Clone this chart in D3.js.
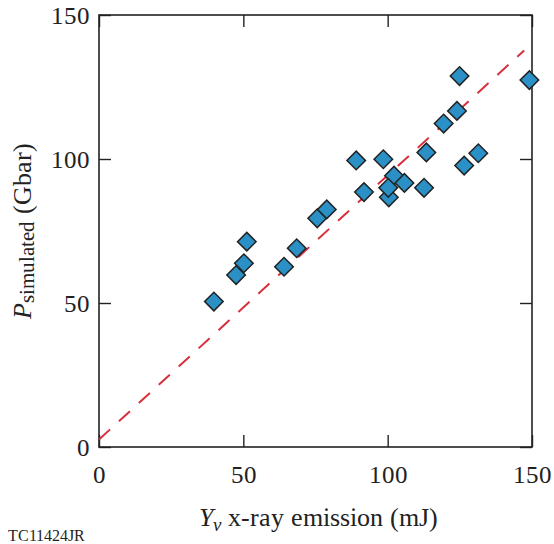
<!DOCTYPE html>
<html>
<head>
<meta charset="utf-8">
<script src="https://cdn.jsdelivr.net/npm/d3@7"></script>
<style>
  @font-face { font-family: "ChartSerif"; src: local("Liberation Serif"), local("LiberationSerif"); font-style: normal; }
  @font-face { font-family: "ChartSerif"; src: local("Liberation Serif Italic"), local("LiberationSerif-Italic"); font-style: italic; }
  body { margin: 0; background: #fff; }
  svg text { font-family: "ChartSerif", "Liberation Serif", serif !important; }
</style>
</head>
<body>
<svg id="chart" width="554" height="544" font-family="Liberation Serif"></svg>
<script>
// x-ray emission (mJ) vs simulated pressure (Gbar)
var xVals = [39.8, 47.5, 50.2, 51.2, 64.1, 68.5, 75.6, 78.9, 89.1, 91.8, 98.5, 102.2,
             105.8, 100.4, 100.2, 112.6, 113.4, 119.4, 124.0, 124.9, 126.5, 131.4, 149.1];
var yVals = [50.5, 59.7, 63.8, 71.3, 62.6, 69.0, 79.4, 82.5, 99.5, 88.5, 99.9, 94.2,
             91.7, 86.7, 90.0, 90.0, 102.3, 112.3, 116.7, 128.8, 97.7, 102.0, 127.4];
var fitX = [0, 147.3];
var fitY = [2.6, 137.7];
var tickVals = [0, 50, 100, 150];

var my = {
  svg: d3.select("#chart"),
  left: 99, right: 532, top: 15, bottom: 447,
  fill: "#2a90c5", edge: "#222", red: "#d7303d", ink: "#222"
};

var x = d3.scaleLinear().domain([0, 150]).range([my.left, my.right]);
var y = d3.scaleLinear().domain([0, 150]).range([my.bottom, my.top]);

function serif(sel, size){
  return sel.attr("font-family", "Liberation Serif").style("font-size", size + "px");
}

// axes, ticks pointing inward on all four sides
function styleAxis(g, showText){
  g.attr("font-family", "Liberation Serif").attr("font-size", 25);
  g.select(".domain").remove();
  g.selectAll(".tick line").attr("stroke", my.ink).attr("stroke-width", 1.4);
  g.selectAll(".tick text").attr("fill", my.ink).call(serif, 25);
  if(!showText) g.selectAll(".tick text").remove();
}

my.svg.append("g").attr("transform", "translate(0," + my.bottom + ")")
  .call(d3.axisBottom(x).tickValues(tickVals).tickSize(-12).tickPadding(18))
  .call(styleAxis, true);
my.svg.append("g").attr("transform", "translate(0," + my.top + ")")
  .call(d3.axisTop(x).tickValues(tickVals).tickSize(-12))
  .call(styleAxis, false);
my.svg.append("g").attr("transform", "translate(" + my.left + ",0)")
  .call(d3.axisLeft(y).tickValues(tickVals).tickSize(-12).tickPadding(9))
  .call(styleAxis, true);
my.svg.append("g").attr("transform", "translate(" + my.right + ",0)")
  .call(d3.axisRight(y).tickValues(tickVals).tickSize(-12))
  .call(styleAxis, false);

// frame
my.svg.append("rect")
  .attr("x", my.left).attr("y", my.top)
  .attr("width", my.right - my.left).attr("height", my.bottom - my.top)
  .attr("fill", "none").attr("stroke", my.ink).attr("stroke-width", 1.6);

// dashed fit line
var line = d3.line().x(function(d){ return x(d[0]); }).y(function(d){ return y(d[1]); });
my.svg.append("path")
  .datum(d3.zip(fitX, fitY))
  .attr("d", line)
  .attr("fill", "none")
  .attr("stroke", my.red)
  .attr("stroke-width", 2)
  .attr("stroke-dasharray", "15,12");

// diamonds (a rotated square)
var diamond = d3.symbol().type(d3.symbolSquare).size(172);
my.svg.append("g").selectAll("path")
  .data(d3.zip(xVals, yVals))
  .enter().append("path")
  .attr("d", diamond)
  .attr("transform", function(d){ return "translate(" + x(d[0]) + "," + y(d[1]) + ") rotate(45)"; })
  .attr("fill", my.fill)
  .attr("stroke", my.edge)
  .attr("stroke-width", 1.5);

// x title
var xt = my.svg.append("text")
  .attr("x", (my.left + my.right) / 2 + 3).attr("y", 526)
  .attr("text-anchor", "middle")
  .attr("fill", my.ink)
  .call(serif, 26);
xt.append("tspan").style("font-style", "italic").text("Y");
xt.append("tspan").style("font-style", "italic").style("font-size", "19px").attr("dy", 5).text("\u03bd");
xt.append("tspan").attr("dy", -5).text(" x-ray emission (mJ)");

// y title
var yt = my.svg.append("text")
  .attr("transform", "translate(31," + ((my.top + my.bottom) / 2) + ") rotate(-90)")
  .attr("text-anchor", "middle")
  .attr("fill", my.ink)
  .call(serif, 26);
yt.append("tspan").style("font-style", "italic").text("P");
yt.append("tspan").style("font-size", "21px").attr("dy", 3).text("simulated");
yt.append("tspan").attr("dy", -3).text(" (Gbar)");

// figure code
my.svg.append("text")
  .attr("x", 8).attr("y", 541)
  .attr("fill", my.ink)
  .call(serif, 16)
  .text("TC11424JR");
</script>
</body>
</html>
